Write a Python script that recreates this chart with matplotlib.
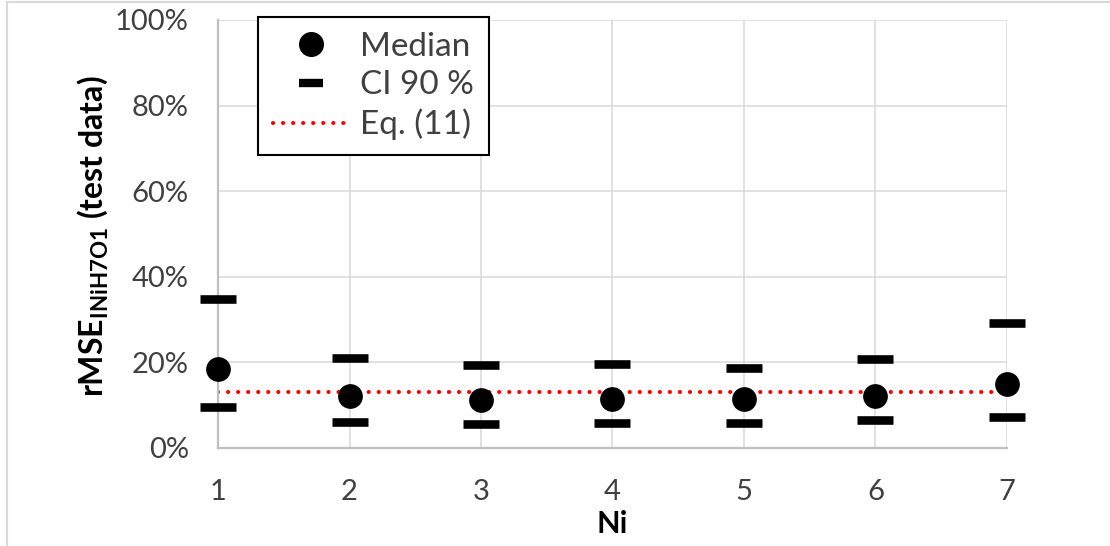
import matplotlib
matplotlib.use("Agg")
import matplotlib.pyplot as plt
from matplotlib.lines import Line2D
from matplotlib.ticker import PercentFormatter

# ---- data (percent) ----
ni = [1, 2, 3, 4, 5, 6, 7]
median = [18.5, 12.2, 11.2, 11.5, 11.5, 12.1, 14.9]
ci_upper = [34.9, 21.0, 19.5, 19.6, 18.8, 20.8, 29.3]
ci_lower = [9.5, 6.1, 5.6, 5.8, 5.8, 6.5, 7.2]
eq11 = 13.2
yticks = [0, 20, 40, 60, 80, 100]

plt.rcParams['font.family'] = ['Lato', 'DejaVu Sans']
plt.rcParams['mathtext.fontset'] = 'custom'
plt.rcParams['mathtext.rm'] = 'Lato'
plt.rcParams['mathtext.bf'] = 'Lato:bold'

W, H = 1110, 546
fig = plt.figure(figsize=(W / 100, H / 100), dpi=100)
ax = fig.add_axes([218 / W, 1 - 448 / H, (1007 - 218) / W, (448 - 20) / H])

grid_c = '#d9d9d9'
axis_c = '#bfbfbf'
txt_c = '#404040'

ax.set_xlim(1, 7)
ax.set_ylim(0, 100)
ax.set_xticks(ni)
ax.set_yticks(yticks)
ax.yaxis.set_major_formatter(PercentFormatter(xmax=100, decimals=0))
ax.grid(True, color=grid_c, linewidth=1.1, zorder=0)
ax.set_axisbelow(True)
for s in ['top', 'right']:
    ax.spines[s].set_visible(False)
for s in ['left', 'bottom']:
    ax.spines[s].set_color(axis_c)
    ax.spines[s].set_linewidth(1.6)
ax.tick_params(length=0, labelsize=21, colors=txt_c)
ax.tick_params(axis='y', pad=21)
ax.tick_params(axis='x', pad=22)

# Eq. (11) line
dots = (0, (0.01, 2.4))
ax.plot([ni[0], ni[-1]], [eq11, eq11], color='red', linewidth=3.0,
        linestyle=dots, dash_capstyle='round', zorder=2)

# CI bars
ax.plot(ni, ci_upper, linestyle='none', marker='_', markersize=26,
        markeredgewidth=6.2, color='black', clip_on=False, zorder=3)
ax.plot(ni, ci_lower, linestyle='none', marker='_', markersize=26,
        markeredgewidth=6.2, color='black', clip_on=False, zorder=3)
# Median
ax.plot(ni, median, linestyle='none', marker='o', markersize=16.8,
        color='black', clip_on=False, zorder=4)

fig.text(612 / W, 1 - 533 / H, 'Ni', ha='center', va='baseline',
         fontsize=22, fontweight='bold')
fig.text(93 / W, 1 - 236 / H, r'rMSE$_{\mathbf{INiH7O1}}$ (test data)',
         rotation=90, ha='center', va='center', fontsize=23, fontweight='bold')

handles = [
    Line2D([], [], linestyle='none', marker='o', markersize=17, color='black'),
    Line2D([], [], linestyle='none', marker='_', markersize=17, markeredgewidth=6,
           color='black'),
    Line2D([], [], color='red', linewidth=3.0, linestyle=dots,
           dash_capstyle='round'),
]
leg = fig.legend(handles, ['Median', 'CI 90 %', 'Eq. (11)'],
                 loc='upper left', bbox_to_anchor=(258 / W, 1 - 17 / H),
                 fontsize=24, frameon=True, fancybox=False, edgecolor='black',
                 framealpha=1, borderpad=0.45, handlelength=2.3,
                 handletextpad=0.3, labelspacing=0.25, borderaxespad=0)
leg.get_frame().set_linewidth(1.5)
for t in leg.get_texts():
    t.set_color(txt_c)

# outer chart-area border (top and left visible)
fig.add_artist(Line2D([7 / W, 1], [1 - 2 / H, 1 - 2 / H], color=grid_c, linewidth=1.5))
fig.add_artist(Line2D([7 / W, 7 / W], [0, 1 - 2 / H], color=grid_c, linewidth=1.5))

fig.savefig('out.png', dpi=100)
